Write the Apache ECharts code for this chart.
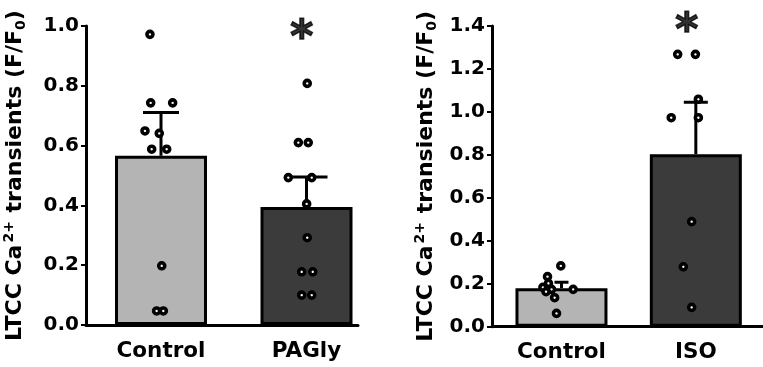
<!DOCTYPE html>
<html>
<head>
<meta charset="utf-8">
<script src="https://cdn.jsdelivr.net/npm/echarts@6/dist/echarts.min.js"></script>
<style>
html, body { margin: 0; padding: 0; background: #fff; }
#chart { width: 763px; height: 367px; }
</style>
</head>
<body>
<div id="chart"></div>
<script>
// left panel: Control vs PAGly
var leftCats = ['Control', 'PAGly'];
var leftMeans = [0.566, 0.395];
var leftErrTop = [0.711, 0.495];
var leftMax = 1.0;
var leftCtrlVals = [0.972, 0.743, 0.743, 0.649, 0.641, 0.588, 0.588, 0.198, 0.047, 0.047];
var leftCtrlJit = [-0.076, -0.071, 0.080, -0.110, -0.012, -0.064, 0.039, 0.005, -0.030, 0.016];
var leftTrtVals = [0.808, 0.61, 0.61, 0.493, 0.493, 0.405, 0.292, 0.178, 0.178, 0.10, 0.10];
var leftTrtJit = [0.005, -0.056, 0.012, -0.125, 0.036, 0.001, 0.005, -0.033, 0.043, -0.033, 0.036];
var leftStar = [1 - 0.033, 0.972];

// right panel: Control vs ISO
var rightCats = ['Control', 'ISO'];
var rightMeans = [0.179, 0.803];
var rightErrTop = [0.207, 1.045];
var rightMax = 1.4;
var rightCtrlVals = [0.283, 0.233, 0.202, 0.183, 0.174, 0.174, 0.163, 0.135, 0.062];
var rightCtrlJit = [-0.005, -0.104, -0.097, -0.138, -0.074, 0.087, -0.115, -0.051, -0.037];
var rightTrtVals = [1.268, 1.268, 1.059, 0.973, 0.973, 0.489, 0.279, 0.090];
var rightTrtJit = [-0.135, -0.003, 0.019, -0.183, 0.019, -0.031, -0.093, -0.031];
var rightStar = [1 - 0.068, 1.393];

var yTitle = '{m|LTCC Ca}{sup|2+}{m| transients (F/F}{sub|0}{m|)}';
var FONT = 'DejaVu Sans';
var barColors = ['#b4b4b4', '#3b3b3b'];

var chart = echarts.init(document.getElementById('chart'));

function points(vals, jit, idx) {
    return vals.map(function (v, i) { return [idx + jit[i], v]; });
}

var option = { animation: false, grid: [], xAxis: [], yAxis: [], series: [] };

function addPanel(p) {
    var g = option.grid.length;
    var xa = option.xAxis.length;
    var ya = option.yAxis.length;
    // grid for marks
    option.grid.push({ left: p.markLeft, top: 26, width: p.markWidth, height: p.height });
    // grid for visible axes
    option.grid.push({ left: p.axisLeft, top: 26, width: p.axisWidth, height: p.height });

    option.xAxis.push({
        gridIndex: g, type: 'category', data: p.cats,
        axisLine: { show: false }, axisTick: { show: false },
        axisLabel: { margin: 15, color: '#000', fontFamily: FONT, fontWeight: 'bold', fontSize: 21.5 }
    });
    option.xAxis.push({ gridIndex: g, type: 'value', min: -0.5, max: 1.5, show: false });
    option.xAxis.push({
        gridIndex: g + 1, type: 'value', min: 0, max: 1,
        axisLine: { show: true, lineStyle: { color: '#000', width: 3 } },
        axisTick: { show: false }, axisLabel: { show: false }, splitLine: { show: false }
    });
    option.yAxis.push({ gridIndex: g, type: 'value', min: 0, max: p.yMax, show: false });
    option.yAxis.push({
        gridIndex: g + 1, type: 'value', min: 0, max: p.yMax, interval: 0.2,
        name: yTitle, nameLocation: 'middle', nameRotate: 90, nameGap: p.nameGap,
        nameTextStyle: {
            color: '#000', fontFamily: FONT, fontWeight: 'bold', fontSize: 22,
            rich: {
                m: { color: '#000', fontFamily: FONT, fontWeight: 'bold', fontSize: 22, lineHeight: 26 },
                sup: { color: '#000', fontFamily: FONT, fontWeight: 'bold', fontSize: 14, verticalAlign: 'top', lineHeight: 26, padding: [0, 1, 0, 2] },
                sub: { color: '#000', fontFamily: FONT, fontWeight: 'bold', fontSize: 14, verticalAlign: 'bottom', lineHeight: 26, padding: [8, 0, 0, 0] }
            }
        },
        axisLine: { show: true, lineStyle: { color: '#000', width: 3 } },
        axisTick: { show: true, length: 5, lineStyle: { color: '#000', width: 2 } },
        axisLabel: {
            margin: 7, color: '#000', fontFamily: FONT, fontWeight: 'bold', fontSize: 20,
            formatter: function (v) { return v.toFixed(1); }
        },
        splitLine: { show: false }
    });

    option.series.push({
        type: 'bar', xAxisIndex: xa, yAxisIndex: ya, barWidth: 92, z: 2,
        data: p.means.map(function (m, i) {
            return { value: m, itemStyle: { color: barColors[i] } };
        }),
        itemStyle: { borderColor: '#000', borderWidth: 3 }
    });
    option.series.push({
        type: 'custom', xAxisIndex: xa, yAxisIndex: ya, z: 3,
        data: p.means.map(function (m, i) { return [i, m, p.errTop[i]]; }),
        renderItem: function (params, api) {
            var lo = api.coord([api.value(0), api.value(1)]);
            var hi = api.coord([api.value(0), api.value(2)]);
            var half = p.caps[params.dataIndex] / 2;
            var st = { stroke: '#000', lineWidth: 3 };
            return {
                type: 'group', children: [
                    { type: 'line', shape: { x1: lo[0], y1: lo[1], x2: hi[0], y2: hi[1] }, style: st },
                    { type: 'line', shape: { x1: hi[0] - half, y1: hi[1], x2: hi[0] + half, y2: hi[1] }, style: st }
                ]
            };
        }
    });
    option.series.push({
        type: 'scatter', xAxisIndex: xa + 1, yAxisIndex: ya, z: 4,
        symbol: 'circle', symbolSize: 6,
        itemStyle: { color: '#fff', borderColor: '#000', borderWidth: 3.6, opacity: 1 },
        data: points(p.ctrlVals, p.ctrlJit, 0).concat(points(p.trtVals, p.trtJit, 1))
    });
    option.series.push({
        type: 'scatter', xAxisIndex: xa + 1, yAxisIndex: ya, z: 5, clip: false,
        symbolSize: 1, itemStyle: { color: 'rgba(0,0,0,0)' },
        label: {
            show: true, position: 'inside', formatter: '*', color: '#000',
            fontFamily: FONT, fontWeight: 'bold', fontSize: 44, offset: [0, 5],
            textBorderColor: '#000', textBorderWidth: 1.5
        },
        data: [p.star]
    });
}

addPanel({
    cats: leftCats, means: leftMeans, errTop: leftErrTop, yMax: leftMax,
    ctrlVals: leftCtrlVals, ctrlJit: leftCtrlJit, trtVals: leftTrtVals, trtJit: leftTrtJit,
    star: leftStar, caps: [36, 42],
    markLeft: 88.25, markWidth: 291, axisLeft: 86, axisWidth: 272, height: 299, nameGap: 58
});
addPanel({
    cats: rightCats, means: rightMeans, errTop: rightErrTop, yMax: rightMax,
    ctrlVals: rightCtrlVals, ctrlJit: rightCtrlJit, trtVals: rightTrtVals, trtJit: rightTrtJit,
    star: rightStar, caps: [14, 24],
    markLeft: 494.3, markWidth: 289.6, axisLeft: 492, axisWidth: 275, height: 300.7, nameGap: 53
});

chart.setOption(option);
window.addEventListener('resize', function () {
    chart.resize();
});
</script>
</body>
</html>
